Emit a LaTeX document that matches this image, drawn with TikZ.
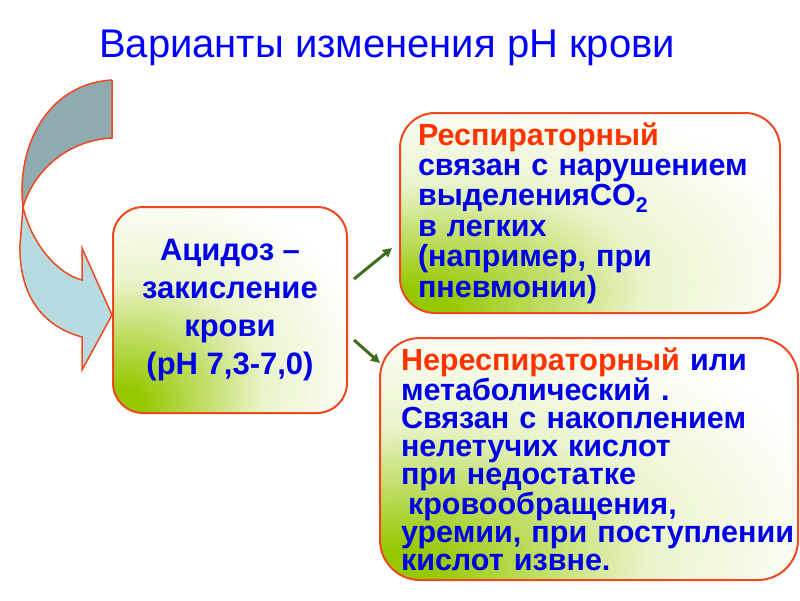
\documentclass[tikz,border=0pt]{standalone}
\usepackage{fontspec}
\setmainfont{Liberation Sans}
\usetikzlibrary{arrows.meta}
\definecolor{titleblue}{RGB}{0,0,255}
\definecolor{txtblue}{RGB}{0,0,230}
\definecolor{txtred}{RGB}{255,51,0}
\definecolor{boxred}{RGB}{240,72,30}
\definecolor{glowgreen}{RGB}{150,200,0}
\definecolor{darkteal}{RGB}{143,170,176}
\definecolor{lightteal}{RGB}{182,220,226}
\definecolor{arrgreen}{RGB}{65,110,30}
\pgfdeclareradialshading{glow}{\pgfpoint{-25bp}{-25bp}}{color(0bp)=(glowgreen); color(5bp)=(glowgreen); color(26bp)=(glowgreen!20!white); color(44bp)=(white); color(100bp)=(white)}

\begin{document}
\begin{tikzpicture}[x=1pt,y=-1pt,
	box/.style={draw=boxred,line width=2pt,shade,shading=glow,text=txtblue},
	grarrow/.style={draw=arrgreen,line width=3pt,-{Triangle[length=9pt,width=9pt]}},
	turnarrow/.style={draw=boxred,line width=1.5pt}]
	\useasboundingbox (0,0) rectangle (800,600);
	\node[anchor=base,text=titleblue,font=\fontsize{40pt}{48pt}\selectfont] (title) at (387,57) {Варианты изменения pH крови};
	% curved arrow
	\filldraw[turnarrow,fill=lightteal] (23,207) .. controls (32,245) and (58,274) .. (82,280) -- (82,248) -- (112,315) -- (82,370) -- (82,337) .. controls (38,325) and (19,290) .. (20,245) -- cycle;
	\filldraw[turnarrow,fill=darkteal] (112,80) -- (112,138) .. controls (70,140) and (35,168) .. (23,207) .. controls (16,150) and (45,84) .. (112,80);
	% boxes
	\node[box,minimum width=234pt,minimum height=206pt,rounded corners=30pt,align=center,font=\fontsize{31pt}{37.7pt}\selectfont\bfseries] (acid) at (230,310) {Ацидоз –\\закисление\\крови\\(pH 7,3-7,0)};
	\node[box,minimum width=380pt,minimum height=200pt,rounded corners=35pt,text width=344pt,inner xsep=18pt,align=left,font=\fontsize{30.5pt}{30.4pt}\selectfont\bfseries] (resp) at (590,213) {\textcolor{txtred}{Респираторный}\\связан с нарушением\\выделенияCO\textsubscript{2}\\в легких\\(например, при\\пневмонии)};
	\node[box,minimum width=418pt,minimum height=242pt,rounded corners=40pt,text width=376pt,inner xsep=21pt,align=left,font=\fontsize{30.5pt}{28pt}\selectfont\bfseries] (nonresp) at (589,459) {\textcolor{txtred}{Нереспираторный} или\\метаболический .\\Связан с накоплением\\нелетучих кислот\\при недостатке\\\hspace*{7pt}кровообращения,\\\mbox{уремии, при поступлении}\\кислот извне.};
	% arrows
	\draw[grarrow] ([shift={(6,-31)}]acid.east) -- ([shift={(-7,35)}]resp.west);
	\draw[grarrow] ([shift={(6,30)}]acid.east) -- ([shift={(1,26)}]nonresp.north west);
\end{tikzpicture}
\end{document}
